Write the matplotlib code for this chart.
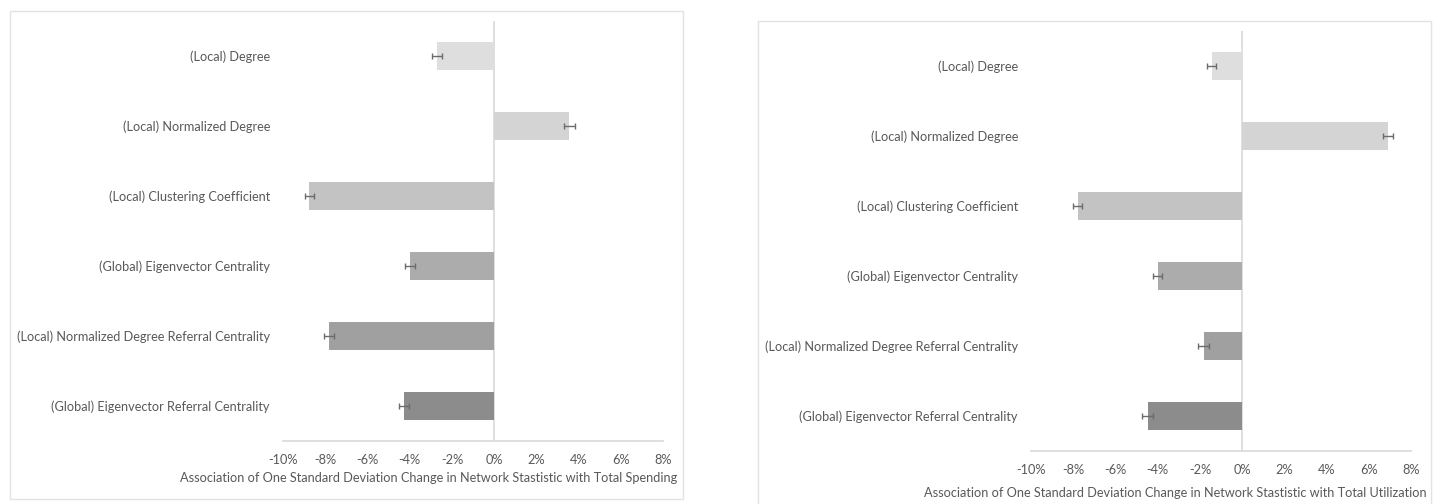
import numpy as np
import matplotlib.pyplot as plt
from matplotlib.patches import Rectangle

# Datos (en %)
categories = ['(Local) Degree',
              '(Local) Normalized Degree',
              '(Local) Clustering Coefficient',
              '(Global) Eigenvector Centrality',
              '(Local) Normalized Degree Referral Centrality',
              '(Global) Eigenvector Referral Centrality']
spending = [-2.70, 3.57, -8.75, -3.98, -7.82, -4.26]
spending_err = [0.24, 0.24, 0.22, 0.24, 0.25, 0.24]
utilization = [-1.44, 6.92, -7.79, -4.00, -1.82, -4.47]
utilization_err = [0.22, 0.24, 0.22, 0.22, 0.25, 0.25]
bar_colors = ['#dedede', '#d4d4d4', '#c3c3c3', '#acacac', '#a0a0a0', '#8c8c8c']
x_ticks = [-10, -8, -6, -4, -2, 0, 2, 4, 6, 8]

txt = '#595959'
line = '#d9d9d9'
plt.rcParams['font.family'] = ['Lato', 'DejaVu Sans']
fs = 9.2

W, H = 1440, 504
fig = plt.figure(figsize=(W / 100, H / 100), dpi=100)

# Marcos de cada panel
for (x0, y0, x1, y1) in [(10, 11, 683, 499), (758, 21, 1431, 510)]:
    fig.patches.append(Rectangle((x0 / W, 1 - y1 / H), (x1 - x0) / W, (y1 - y0) / H,
                                 transform=fig.transFigure, fill=False,
                                 edgecolor='#e3e3e3', linewidth=1))


def panel(rect, values, errs, xlabel, label_x, label_y):
    ax = fig.add_axes(rect)
    y = np.arange(len(categories))
    ax.barh(y, values, height=0.4, color=bar_colors, zorder=2)
    ax.errorbar(values, y, xerr=errs, fmt='none', ecolor='#6b6b6b',
                elinewidth=1, capsize=2.2, capthick=1, zorder=3)
    ax.axvline(0, color=line, linewidth=1.2, zorder=1)
    ax.set_xlim(-10, 8)
    ax.set_ylim(len(categories) - 0.5, -0.5)
    ax.set_yticks(y)
    ax.set_yticklabels(categories, fontsize=fs, color=txt)
    ax.set_xticks(x_ticks)
    ax.set_xticklabels([f'{v}%' for v in x_ticks], fontsize=fs, color=txt)
    ax.tick_params(axis='y', length=0, pad=9.4)
    ax.tick_params(axis='x', length=0, pad=9)
    for s in ['top', 'right', 'left']:
        ax.spines[s].set_visible(False)
    ax.spines['bottom'].set_color(line)
    ax.spines['bottom'].set_linewidth(1.2)
    ax.set_xlabel(xlabel, fontsize=fs, color=txt, ha='right')
    ax.xaxis.set_label_coords(label_x, label_y)
    return ax


panel([283 / W, 63 / H, 380 / W, 420 / H], spending, spending_err,
      'Association of One Standard Deviation Change in Network Stastistic with Total Spending',
      1.037, -0.074)
panel([1031 / W, 53 / H, 380 / W, 420 / H], utilization, utilization_err,
      'Association of One Standard Deviation Change in Network Stastistic with Total Utilization',
      1.04, -0.086)

plt.savefig('out.png', dpi=100)
